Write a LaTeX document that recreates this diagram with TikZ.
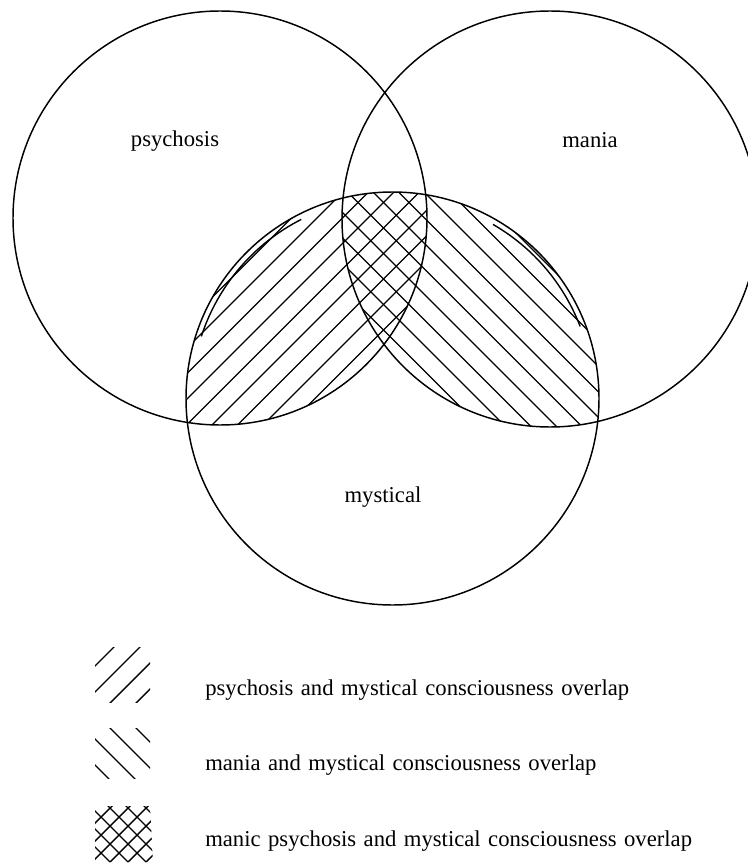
\documentclass[tikz,border=0pt]{standalone}
\usepackage{fontspec}
\setmainfont{Liberation Serif}
\usetikzlibrary{calc}
\newcommand\mylegfont{\fontsize{17}{20}\selectfont\spaceskip=5.6pt plus 1pt\relax}
\begin{document}
\begin{tikzpicture}[x=0.75pt,y=-0.75pt,
  ring/.style={line width=1.1pt},
  hatch/.style={line width=1.05pt},
  lab/.style={font=\fontsize{17}{20}\selectfont, inner sep=0pt},
  legtext/.style={font=\mylegfont, inner sep=0pt, anchor=base west}]
\useasboundingbox (0,0) rectangle (748,863);
\coordinate (P) at (220,218);
\coordinate (M) at (550,219);
\coordinate (Y) at (392.5,398.5);
% psychosis & mystical hatch (/)
\begin{scope}
  \clip (P) circle [radius=207];
  \clip (Y) circle [radius=206.5];
  \foreach \k in {-10,...,8} {
    \pgfmathsetmacro{\c}{637+25.5*\k}
    \draw[hatch] (\c-100,100) -- (\c-700,700);
  }
\end{scope}
% mania & mystical hatch (\)
\begin{scope}
  \clip (M) circle [radius=208];
  \clip (Y) circle [radius=206.5];
  \foreach \k in {-10,...,12} {
    \pgfmathsetmacro{\c}{130+25.5*\k}
    \draw[hatch] (\c+100,100) -- (\c+700,700);
  }
\end{scope}
% circles
\draw[ring] (P) circle [radius=207];
\draw[ring] (M) circle [radius=208];
\draw[ring] (Y) circle [radius=206.5];
% faint inner arcs of the hatched areas
\draw[hatch] ($(Y)+(198:201)$) arc [start angle=198, end angle=243, radius=201];
\draw[hatch] ($(Y)+(300:201)$) arc [start angle=300, end angle=339, radius=201];
% labels
\node[lab] (lp) at (175,141) {psychosis};
\node[lab] (lm) at (590,140) {mania};
\node[lab] (ly) at (383,497) {mystical};
% legend icons
\begin{scope}
  \clip (95,647) rectangle (150,702);
  \foreach \k in {0,...,3} {
    \pgfmathsetmacro{\c}{761+26*\k}
    \draw[hatch] (\c-640,640) -- (\c-710,710);
  }
\end{scope}
\begin{scope}
  \clip (95,728) rectangle (150,778);
  \foreach \k in {0,...,3} {
    \pgfmathsetmacro{\c}{-592-26*\k}
    \draw[hatch] (\c+720,720) -- (\c+790,790);
  }
\end{scope}
\begin{scope}
  \clip (95,806) -- (150,806) -- (153,862) -- (95,862) -- cycle;
  \foreach \k in {0,...,7} {
    \pgfmathsetmacro{\c}{900+18*\k}
    \draw[hatch] (\c-800,800) -- (\c-870,870);
    \pgfmathsetmacro{\d}{-770+18*\k}
    \draw[hatch] (\d+800,800) -- (\d+870,870);
  }
\end{scope}
% legend text
\node[legtext] (t1) at (205,695) {psychosis and mystical consciousness overlap};
\node[legtext] (t2) at (205,770) {mania and mystical consciousness overlap};
\node[legtext] (t3) at (205,846) {manic psychosis and mystical consciousness overlap};
\end{tikzpicture}
\end{document}
